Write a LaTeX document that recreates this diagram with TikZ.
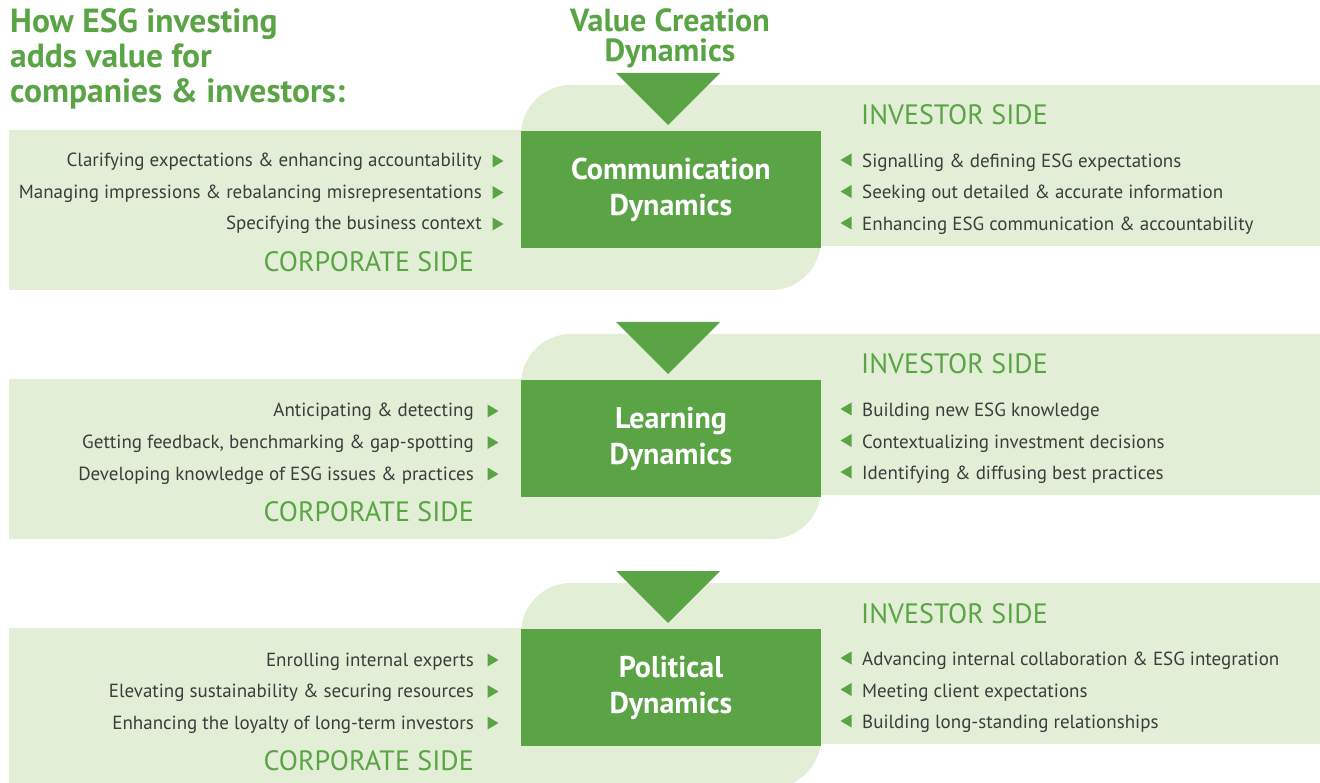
\documentclass[tikz,border=0pt]{standalone}
\usepackage{fontspec}
\setmainfont{PT Sans}
\usepackage{tikz}
\usetikzlibrary{positioning}

\definecolor{esgdark}{HTML}{5AA446}
\definecolor{esglight}{HTML}{E2EFD6}
\definecolor{esgtext}{HTML}{3C3C3C}

\tikzset{
	dynbox/.style={fill=esgdark,text=white,align=center,inner sep=0pt,
	               minimum width=300pt,minimum height=117pt,
	               font=\fontsize{30}{36}\selectfont\bfseries},
	corpitem/.style={anchor=base east,inner sep=0pt,text=esgtext,
	                 font=\fontsize{19}{22}\selectfont},
	invitem/.style={anchor=base west,inner sep=0pt,text=esgtext,
	                font=\fontsize{19}{22}\selectfont},
	sidelabel/.style={inner sep=0pt,text=esgdark,
	                  font=\fontsize{28}{30}\selectfont},
	headline/.style={inner sep=0pt,text=esgdark,
	                 font=\fontsize{33.5}{35}\selectfont\bfseries}
}

% small markers next to the items
\newcommand{\corpmark}[2]{\fill[esgdark] (#1-5.5,#2-6.5) -- (#1+5.5,#2) -- (#1-5.5,#2+6.5) -- cycle;}
\newcommand{\invmark}[2]{\fill[esgdark] (#1+5.5,#2-6.5) -- (#1-5.5,#2) -- (#1+5.5,#2+6.5) -- cycle;}
% the two light panels and the big arrow of one band
\newcommand{\bandback}{%
	\fill[esglight] (521,246) -- (521,135) arc[start angle=180,end angle=270,radius=50]
		-- (1320,85) -- (1320,246) -- cycle;
	\fill[esglight] (9,130) -- (821,130) -- (821,240) arc[start angle=0,end angle=90,radius=50]
		-- (9,290) -- cycle;
	\fill[esgdark] (616,73) -- (720,73) -- (668,125) -- cycle;}

\begin{document}
\begin{tikzpicture}[x=1pt,y=-1pt]
	\useasboundingbox (0,0) rectangle (1320,783);

	% base of a multi-line node is its last line
	\node[headline,anchor=base west,align=left] (title) at (10,103)
		{How ESG investing\\adds value for\\companies \& investors:};
	\node[headline,anchor=base,align=center,font=\fontsize{32}{30}\selectfont\bfseries] (vcd) at (670,62)
		{Value Creation\\Dynamics};

	% communication
	\begin{scope}
		\bandback
		\node[dynbox] (comm) at (671,189.5) {Communication\\Dynamics};
		\node[sidelabel,anchor=base west] (inv1) at (861,125) {INVESTOR SIDE};
		\node[sidelabel,anchor=base east] (corp1) at (474,272) {CORPORATE SIDE};
		\node[corpitem] (c11) at (482,167) {Clarifying expectations \& enhancing accountability};
		\node[corpitem] (c12) at (482,198.5) {Managing impressions \& rebalancing misrepresentations};
		\node[corpitem] (c13) at (482,230) {Specifying the business context};
		\corpmark{498}{161}
		\corpmark{498}{192.5}
		\corpmark{498}{224}
		\node[invitem] (i11) at (862,167.5) {Signalling \& defining ESG expectations};
		\node[invitem] (i12) at (862,199) {Seeking out detailed \& accurate information};
		\node[invitem] (i13) at (862,230.5) {Enhancing ESG communication \& accountability};
		\invmark{846}{160}
		\invmark{846}{191.5}
		\invmark{846}{223}
	\end{scope}

	% learning
	\begin{scope}[shift={(0,249)}]
		\bandback
		\node[dynbox] (learn) at (671,189.5) {Learning\\Dynamics};
		\node[sidelabel,anchor=base west] (inv2) at (861,125) {INVESTOR SIDE};
		\node[sidelabel,anchor=base east] (corp2) at (474,272) {CORPORATE SIDE};
		\node[corpitem] (c21) at (474,168) {Anticipating \& detecting};
		\node[corpitem] (c22) at (474,199.5) {Getting feedback, benchmarking \& gap-spotting};
		\node[corpitem] (c23) at (474,231) {Developing knowledge of ESG issues \& practices};
		\corpmark{493}{162}
		\corpmark{493}{193.5}
		\corpmark{493}{225}
		\node[invitem] (i21) at (862,167.5) {Building new ESG knowledge};
		\node[invitem] (i22) at (862,199) {Contextualizing investment decisions};
		\node[invitem] (i23) at (862,230.5) {Identifying \& diffusing best practices};
		\invmark{846}{160}
		\invmark{846}{191.5}
		\invmark{846}{223}
	\end{scope}

	% political
	\begin{scope}[shift={(0,498)}]
		\bandback
		\node[dynbox] (pol) at (671,189.5) {Political\\Dynamics};
		\node[sidelabel,anchor=base west] (inv3) at (861,125) {INVESTOR SIDE};
		\node[sidelabel,anchor=base east] (corp3) at (474,272) {CORPORATE SIDE};
		\node[corpitem] (c31) at (474,168) {Enrolling internal experts};
		\node[corpitem] (c32) at (474,199.5) {Elevating sustainability \& securing resources};
		\node[corpitem] (c33) at (474,231) {Enhancing the loyalty of long-term investors};
		\corpmark{493}{162}
		\corpmark{493}{193.5}
		\corpmark{493}{225}
		\node[invitem] (i31) at (862,167.5) {Advancing internal collaboration \& ESG integration};
		\node[invitem] (i32) at (862,199) {Meeting client expectations};
		\node[invitem] (i33) at (862,230.5) {Building long-standing relationships};
		\invmark{846}{160}
		\invmark{846}{191.5}
		\invmark{846}{223}
	\end{scope}
\end{tikzpicture}
\end{document}
